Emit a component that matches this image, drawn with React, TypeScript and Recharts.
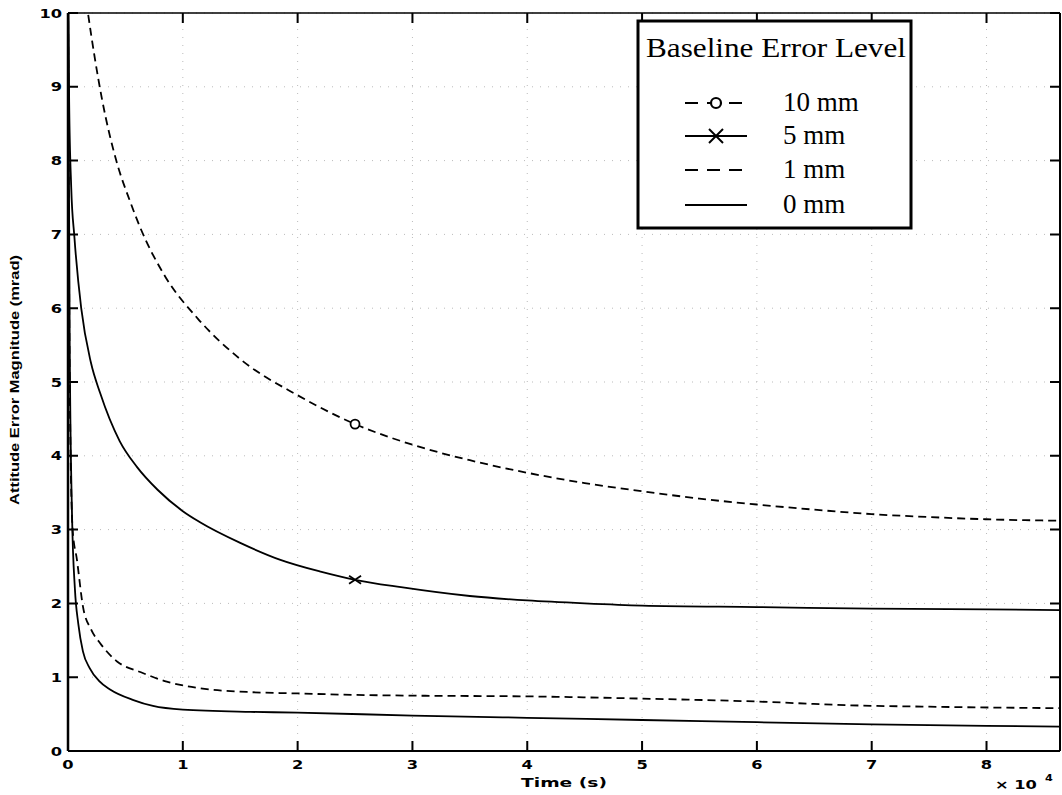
import { LineChart, Line, XAxis, YAxis, CartesianGrid, Label } from "recharts";

// time in seconds, error in mrad
const timeTen = [1300, 1740, 2940, 4240, 5400, 6270, 8500, 11300, 15000, 20000, 25000, 30000, 35000, 40000, 45000, 50000, 55000, 60000, 65000, 70000, 75000, 80000, 86400];
const errTen = [10.5, 10.0, 8.85, 7.98, 7.45, 7.1, 6.42, 5.86, 5.31, 4.82, 4.43, 4.15, 3.94, 3.77, 3.63, 3.52, 3.42, 3.34, 3.27, 3.21, 3.17, 3.14, 3.12];

const timeFive = [0, 100, 280, 560, 1150, 2000, 2800, 4500, 6000, 7800, 10000, 11500, 15000, 18500, 22000, 25000, 29000, 35000, 40000, 45000, 50000, 60000, 70000, 80000, 86400];
const errFive = [10.6, 8.8, 7.64, 6.96, 6.0, 5.26, 4.85, 4.2, 3.85, 3.54, 3.25, 3.1, 2.82, 2.59, 2.43, 2.32, 2.22, 2.1, 2.04, 2.0, 1.97, 1.95, 1.93, 1.92, 1.91];

const timeOne = [0, 150, 400, 780, 1300, 2000, 2800, 4300, 6300, 8600, 11500, 15600, 20000, 25000, 30000, 40000, 50000, 60000, 68000, 75000, 86400];
const errOne = [10.6, 5.0, 3.0, 2.59, 1.96, 1.65, 1.46, 1.21, 1.07, 0.94, 0.85, 0.8, 0.78, 0.76, 0.75, 0.74, 0.71, 0.67, 0.62, 0.6, 0.58];

const timeZero = [0, 150, 350, 600, 900, 1300, 1900, 2700, 3700, 5700, 7400, 10000, 15900, 20000, 30000, 40000, 50000, 60000, 70000, 80000, 86400];
const errZero = [10.6, 5.5, 3.2, 2.2, 1.72, 1.35, 1.12, 0.95, 0.83, 0.69, 0.61, 0.56, 0.53, 0.52, 0.48, 0.45, 0.42, 0.39, 0.36, 0.34, 0.33];

const xTicks = [0, 10000, 20000, 30000, 40000, 50000, 60000, 70000, 80000];
const yTicks = [0, 1, 2, 3, 4, 5, 6, 7, 8, 9, 10];
const markTimes = [25000];

const legendItems = ["10 mm", "5 mm", "1 mm", "0 mm"];

const toRows = (ts: number[], vs: number[]) => ts.map((t, i) => ({ t, v: vs[i] }));

const X_MAX = 86400;
const Y_MAX = 10;

// plot box that the margins and axis sizes below produce
const W = 1062;
const H = 795;
const M_TOP = 12;
const M_RIGHT = 1;
const Y_AXIS_W = 68;
const X_AXIS_H = 44;
const PLOT_L = Y_AXIS_W;
const PLOT_R = W - M_RIGHT - 1;
const PLOT_T = M_TOP + 1;
const PLOT_B = H - X_AXIS_H;

const TICK = 10;
const tickFont = { fontFamily: "DejaVu Sans", fontWeight: "bold", fontSize: 12.5 };

const LeftTick = (props: any) => {
  const { x, y, payload } = props;
  return (
    <text transform={`translate(${x - 6} ${y + 4.5}) scale(1.3 1)`} textAnchor="end" {...tickFont} fill="#000">
      {payload.value}
    </text>
  );
};

const BottomTick = (props: any) => {
  const { x, y, payload } = props;
  return (
    <text transform={`translate(${x} ${y + 18}) scale(1.3 1)`} textAnchor="middle" {...tickFont} fill="#000">
      {payload.value / 10000}
    </text>
  );
};

const circleDot = (props: any) => {
  const { cx, cy, payload, index } = props;
  if (!markTimes.includes(payload.t)) return <g key={index} />;
  return <circle key={index} cx={cx} cy={cy} r={4.5} fill="#fff" stroke="#000" strokeWidth={1.8} />;
};

const crossDot = (props: any) => {
  const { cx, cy, payload, index } = props;
  if (!markTimes.includes(payload.t)) return <g key={index} />;
  return (
    <g key={index} stroke="#000" strokeWidth={1.8}>
      <line x1={cx - 6} y1={cy - 4} x2={cx + 6} y2={cy + 4} />
      <line x1={cx - 6} y1={cy + 4} x2={cx + 6} y2={cy - 4} />
    </g>
  );
};

// inward tick marks on all four sides of the frame
const FrameTicks = () => {
  const px = (t: number) => PLOT_L + (t / X_MAX) * (PLOT_R - PLOT_L);
  const py = (v: number) => PLOT_B - (v / Y_MAX) * (PLOT_B - PLOT_T);
  return (
    <g stroke="#000" strokeWidth={2} fill="none">
      {yTicks.map((v) => (
        <path key={`l${v}`} d={`M${PLOT_L},${py(v)}h${TICK}M${PLOT_R},${py(v)}h${-TICK}`} />
      ))}
      {xTicks.map((t) => (
        <path key={`b${t}`} d={`M${px(t)},${PLOT_B}v${-TICK}M${px(t)},${PLOT_T}v${TICK}`} />
      ))}
    </g>
  );
};

const LegendBox = () => {
  const rowY = [103, 136, 170, 205];
  return (
    <g>
      <rect x={638} y={21} width={273} height={207} fill="#fff" stroke="#000" strokeWidth={3} />
      <text x={776} y={57} textAnchor="middle" fontFamily="Liberation Serif" fontSize={27} textLength={260} lengthAdjust="spacingAndGlyphs">
        Baseline Error Level
      </text>
      {legendItems.map((name, i) => {
        const y = rowY[i];
        const dashed = i === 0 || i === 2;
        return (
          <g key={name}>
            <line x1={685} x2={747} y1={y} y2={y} stroke="#000" strokeWidth={2} strokeDasharray={dashed ? "13 9" : undefined} />
            {i === 0 && <circle cx={716} cy={y} r={5} fill="#fff" stroke="#000" strokeWidth={2.2} />}
            {i === 1 && (
              <g stroke="#000" strokeWidth={2}>
                <line x1={709} y1={y - 7} x2={723} y2={y + 7} />
                <line x1={709} y1={y + 7} x2={723} y2={y - 7} />
              </g>
            )}
            <text x={783} y={y + 8} fontFamily="Liberation Serif" fontSize={27}>
              {name}
            </text>
          </g>
        );
      })}
    </g>
  );
};

export default function App() {
  return (
    <div style={{ position: "absolute", left: 0, top: 0, width: W, height: H, background: "#fff" }}>
      <LineChart width={W} height={H} margin={{ top: M_TOP, right: M_RIGHT, bottom: 0, left: 0 }}>
        <CartesianGrid xAxisId="b" yAxisId="l" stroke="#bbb" strokeDasharray="1 7" strokeWidth={1} />
        <XAxis
          xAxisId="b"
          dataKey="t"
          type="number"
          domain={[0, X_MAX]}
          ticks={xTicks}
          allowDataOverflow
          height={X_AXIS_H}
          tickSize={0}
          tickMargin={0}
          tick={<BottomTick />}
          axisLine={{ stroke: "#000", strokeWidth: 2 }}
          tickLine={false}
          interval={0}
        >
          <Label
            content={() => (
              <text x={564} y={787} textAnchor="middle" {...tickFont} fontSize={13} textLength={86} lengthAdjust="spacingAndGlyphs">
                Time (s)
              </text>
            )}
          />
        </XAxis>
        <XAxis
          xAxisId="t"
          orientation="top"
          dataKey="t"
          type="number"
          domain={[0, X_MAX]}
          ticks={xTicks}
          allowDataOverflow
          height={1}
          tick={false}
          axisLine={{ stroke: "#000", strokeWidth: 1.5 }}
          tickLine={false}
        />
        <YAxis
          yAxisId="l"
          type="number"
          domain={[0, Y_MAX]}
          ticks={yTicks}
          allowDataOverflow
          width={Y_AXIS_W}
          tickSize={0}
          tickMargin={0}
          tick={<LeftTick />}
          axisLine={{ stroke: "#000", strokeWidth: 2.5 }}
          tickLine={false}
          interval={0}
        >
          <Label
            content={() => (
              <text
                x={0}
                y={0}
                transform="translate(19 380) rotate(-90)"
                textAnchor="middle"
                fontFamily="Liberation Sans"
                fontWeight="bold"
                fontSize={13}
                textLength={250}
                lengthAdjust="spacingAndGlyphs"
              >
                Attitude Error Magnitude (mrad)
              </text>
            )}
          />
        </YAxis>
        <YAxis
          yAxisId="r"
          orientation="right"
          type="number"
          domain={[0, Y_MAX]}
          ticks={yTicks}
          allowDataOverflow
          width={1}
          tick={false}
          axisLine={{ stroke: "#000", strokeWidth: 2 }}
          tickLine={false}
        />
        <Line
          xAxisId="b"
          yAxisId="l"
          data={toRows(timeTen, errTen)}
          dataKey="v"
          type="monotone"
          stroke="#000"
          strokeWidth={1.8}
          strokeDasharray="8 5"
          dot={circleDot}
          activeDot={false}
          isAnimationActive={false}
        />
        <Line
          xAxisId="b"
          yAxisId="l"
          data={toRows(timeFive, errFive)}
          dataKey="v"
          type="monotone"
          stroke="#000"
          strokeWidth={1.8}
          dot={crossDot}
          activeDot={false}
          isAnimationActive={false}
        />
        <Line
          xAxisId="b"
          yAxisId="l"
          data={toRows(timeOne, errOne)}
          dataKey="v"
          type="monotone"
          stroke="#000"
          strokeWidth={1.8}
          strokeDasharray="8 5"
          dot={false}
          activeDot={false}
          isAnimationActive={false}
        />
        <Line
          xAxisId="b"
          yAxisId="l"
          data={toRows(timeZero, errZero)}
          dataKey="v"
          type="monotone"
          stroke="#000"
          strokeWidth={1.8}
          dot={false}
          activeDot={false}
          isAnimationActive={false}
        />
      </LineChart>
      <svg width={W} height={H} style={{ position: "absolute", left: 0, top: 0, pointerEvents: "none" }}>
        <FrameTicks />
        <LegendBox />
        <text transform="translate(995 789) scale(1.25 1)" {...tickFont} fontSize={13}>
          × 10
        </text>
        <text transform="translate(1045 781) scale(1.25 1)" {...tickFont} fontSize={9}>
          4
        </text>
      </svg>
    </div>
  );
}
